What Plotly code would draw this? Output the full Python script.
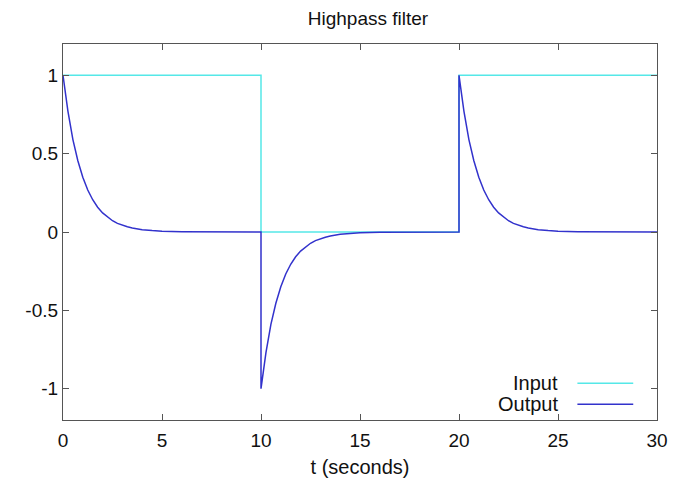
import plotly.graph_objects as go

# Input step signal (seconds, value)
input_t = [0, 10, 10, 20, 20, 30]
input_v = [1, 1, 0, 0, 1, 1]

# Output of the highpass filter:
# decay after each edge (time since edge, relative value)
decay_dt = [0, 0.25, 0.5, 0.75, 1.0, 1.25, 1.5, 1.75, 2.0, 2.25, 2.5, 2.75, 3.0,
            3.25, 3.5, 3.75, 4.0, 4.5, 5.0, 6.0, 7.0, 8.0, 10.0]
decay_v = [1.0, 0.77, 0.59, 0.455, 0.35, 0.268, 0.206, 0.158, 0.122, 0.094, 0.072,
           0.055, 0.043, 0.033, 0.025, 0.019, 0.015, 0.009, 0.005, 0.002, 0.001, 0.0, 0.0]
edge_times = [0, 10, 20]
edge_signs = [1, -1, 1]

out_t = []
out_v = []
for t0, s in zip(edge_times, edge_signs):
    if t0 > 0:
        out_t.append(t0)
        out_v.append(0.0)
    for dt, v in zip(decay_dt, decay_v):
        out_t.append(t0 + dt)
        out_v.append(s * v)

x_ticks = [0, 5, 10, 15, 20, 25, 30]
y_ticks = [-1, -0.5, 0, 0.5, 1]
y_ticktext = ["-1", "-0.5", "0", "0.5", "1"]

series_names = ["Input", "Output"]
series_colors = ["#55e8e8", "#3232cc"]

fig = go.Figure()
fig.add_trace(go.Scatter(x=input_t, y=input_v, mode="lines", name=series_names[0],
                         line=dict(color=series_colors[0], width=1.5), showlegend=False))
fig.add_trace(go.Scatter(x=out_t, y=out_v, mode="lines", name=series_names[1],
                         line=dict(color=series_colors[1], width=1.5), showlegend=False))

font = "Liberation Sans, Arial, Helvetica, sans-serif"
# gnuplot-style legend: text right-aligned, sample line after it
leg_y = [0.098, 0.042]
for name, col, yy in zip(series_names, series_colors, leg_y):
    fig.add_annotation(xref="paper", yref="paper", x=0.836, y=yy, text=name,
                       showarrow=False, xanchor="right", yanchor="middle",
                       font=dict(family=font, size=20, color="#111"))
    fig.add_shape(type="line", xref="paper", yref="paper", x0=0.866, x1=0.960,
                  y0=yy, y1=yy, line=dict(color=col, width=1.5))

axis_common = dict(showline=True, linecolor="#555", linewidth=1.2, mirror="ticks",
                   ticks="inside", ticklen=6, tickcolor="#555", showgrid=False,
                   zeroline=False, tickfont=dict(family=font, size=19, color="#111"))

fig.update_layout(
    width=683, height=489,
    margin=dict(l=55, r=34, t=36, b=77),
    paper_bgcolor="white", plot_bgcolor="white",
    title=dict(text="Highpass filter", x=0.527, xanchor="center", y=0.993, yanchor="top",
               font=dict(family=font, size=19, color="#111")),
    xaxis=dict(range=[0, 30], tickvals=x_ticks, ticktext=[str(v) for v in x_ticks],
               ticklabelstandoff=3,
               title=dict(text="t (seconds)", font=dict(family=font, size=20, color="#111"), standoff=10),
               **axis_common),
    yaxis=dict(range=[-1.2, 1.2], tickvals=y_ticks, ticktext=y_ticktext, **axis_common),
)

fig.write_html("out.html")
